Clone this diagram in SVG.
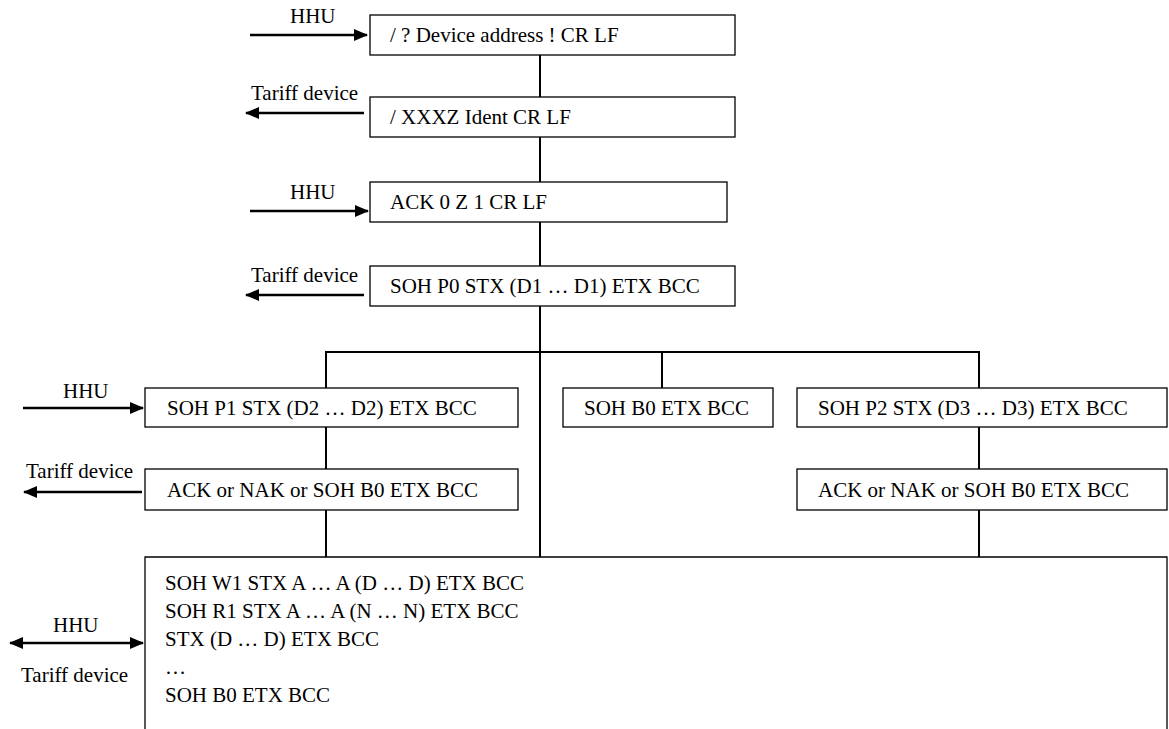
<svg xmlns="http://www.w3.org/2000/svg" width="1169" height="729" viewBox="0 0 1169 729">
<style>
.box{fill:#fff;stroke:#000;stroke-width:1.3}
.ln{stroke:#000;stroke-width:2;fill:none}
.ar{stroke:#000;stroke-width:2.6;fill:none}
text{font-family:"Liberation Serif","Times New Roman",serif;font-size:21px;fill:#000}
</style>
<defs>
<marker id="ah" viewBox="0 0 14 12" refX="13" refY="6" markerWidth="14" markerHeight="12" orient="auto-start-reverse" markerUnits="userSpaceOnUse">
<path d="M0,0 L14,6 L0,12 z" fill="#000"/>
</marker>
</defs>
<rect width="1169" height="729" fill="#fff"/>
<g id="connectors">
<line class="ln" x1="540" y1="55" x2="540" y2="97"/>
<line class="ln" x1="540" y1="137" x2="540" y2="182"/>
<line class="ln" x1="540" y1="222" x2="540" y2="266"/>
<line class="ln" x1="540" y1="306" x2="540" y2="557"/>
<line class="ln" x1="326" y1="352" x2="979" y2="352"/>
<line class="ln" x1="326" y1="351" x2="326" y2="388"/>
<line class="ln" x1="662" y1="352" x2="662" y2="388"/>
<line class="ln" x1="979" y1="351" x2="979" y2="388"/>
<line class="ln" x1="326" y1="427" x2="326" y2="469"/>
<line class="ln" x1="979" y1="427" x2="979" y2="469"/>
<line class="ln" x1="326" y1="510" x2="326" y2="557"/>
<line class="ln" x1="979" y1="510" x2="979" y2="557"/>
<line class="ar" x1="250" y1="35" x2="367" y2="35" marker-end="url(#ah)"/>
<line class="ar" x1="364" y1="113" x2="246" y2="113" marker-end="url(#ah)"/>
<line class="ar" x1="250" y1="211" x2="368" y2="211" marker-end="url(#ah)"/>
<line class="ar" x1="364" y1="295" x2="246" y2="295" marker-end="url(#ah)"/>
<line class="ar" x1="23" y1="408" x2="143" y2="408" marker-end="url(#ah)"/>
<line class="ar" x1="142" y1="492" x2="24" y2="492" marker-end="url(#ah)"/>
<line class="ar" x1="10" y1="643" x2="143" y2="643" marker-start="url(#ah)" marker-end="url(#ah)"/>
</g>
<g id="n1"><rect class="box" x="370" y="15" width="365" height="40"/><text x="390" y="42">/ ? Device address ! CR LF</text></g>
<g id="l1"><text x="290" y="23">HHU</text></g>
<g id="n2"><rect class="box" x="370" y="97" width="365" height="40"/><text x="390" y="124">/ XXXZ Ident CR LF</text></g>
<g id="l2"><text x="251" y="100">Tariff device</text></g>
<g id="n3"><rect class="box" x="370" y="182" width="357" height="40"/><text x="390" y="209">ACK 0 Z 1 CR LF</text></g>
<g id="l3"><text x="290" y="199">HHU</text></g>
<g id="n4"><rect class="box" x="370" y="266" width="365" height="40"/><text x="390" y="293">SOH P0 STX (D1 … D1) ETX BCC</text></g>
<g id="l4"><text x="251" y="282">Tariff device</text></g>
<g id="n5"><rect class="box" x="145" y="388" width="373" height="39"/><text x="167" y="415">SOH P1 STX (D2 … D2) ETX BCC</text></g>
<g id="l5"><text x="63" y="398">HHU</text></g>
<g id="n6"><rect class="box" x="563" y="388" width="210" height="39"/><text x="584" y="415">SOH B0 ETX BCC</text></g>
<g id="n7"><rect class="box" x="797" y="388" width="370" height="39"/><text x="818" y="415">SOH P2 STX (D3 … D3) ETX BCC</text></g>
<g id="n8"><rect class="box" x="145" y="469" width="373" height="41"/><text x="167" y="497">ACK or NAK or SOH B0 ETX BCC</text></g>
<g id="l8"><text x="26" y="478">Tariff device</text></g>
<g id="n9"><rect class="box" x="797" y="469" width="370" height="41"/><text x="818" y="497">ACK or NAK or SOH B0 ETX BCC</text></g>
<g id="n10"><path class="box" d="M145,735 L145,557 L1167,557 L1167,735"/>
<text x="165" y="590">SOH W1 STX A … A (D … D) ETX BCC</text>
<text x="165" y="618">SOH R1 STX A … A (N … N) ETX BCC</text>
<text x="165" y="646">STX (D … D) ETX BCC</text>
<text x="165" y="674">…</text>
<text x="165" y="702">SOH B0 ETX BCC</text>
</g>
<g id="l10"><text x="53" y="632">HHU</text><text x="21" y="682">Tariff device</text></g>
</svg>
